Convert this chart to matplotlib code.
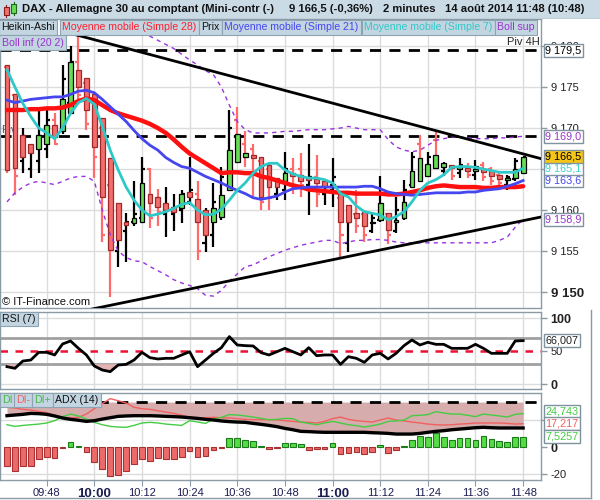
import matplotlib
matplotlib.use("Agg")
import matplotlib.pyplot as plt
import numpy as np
from matplotlib.patches import Rectangle
from matplotlib.lines import Line2D
from matplotlib.ticker import FixedLocator, FuncFormatter
from matplotlib.transforms import blended_transform_factory

plt.rcParams["font.family"] = ["Liberation Sans", "DejaVu Sans"]

# ---- DAX mini contract, 2-minute bars from 09:38 to 11:48 ----
first_bar_minute = 9 * 60 + 38
bar_step = 2

high = [9177.7, 9174.2, 9170.0, 9168.1, 9172.2, 9172.2, 9171.8, 9177.7, 9180.0, 9181.3,
        9176.1, 9174.2, 9171.2, 9166.3, 9160.8, 9159.6, 9163.5, 9166.5, 9165.1, 9162.6,
        9162.8, 9162.0, 9162.4, 9166.5, 9163.5, 9160.2, 9163.3, 9165.3, 9172.2, 9172.6,
        9169.6, 9168.1, 9166.5, 9165.7, 9163.7, 9167.1, 9166.3, 9166.9, 9168.0, 9166.7,
        9163.7, 9166.3, 9162.0, 9160.6, 9162.4, 9159.8, 9159.6, 9164.1, 9159.6, 9161.6,
        9163.7, 9167.1, 9169.1, 9167.1, 9169.6, 9165.9, 9165.5, 9166.4, 9165.7, 9166.1,
        9165.9, 9165.3, 9164.5, 9164.3, 9166.3, 9166.5]
low = [9164.5, 9161.8, 9164.5, 9163.9, 9164.5, 9166.3, 9167.9, 9169.3, 9171.8, 9173.5,
       9169.8, 9163.9, 9156.1, 9149.4, 9153.1, 9153.7, 9158.0, 9158.6, 9157.8, 9158.0,
       9156.7, 9157.4, 9158.4, 9160.6, 9153.9, 9154.9, 9155.5, 9158.8, 9162.4, 9165.7,
       9165.3, 9161.4, 9160.0, 9160.0, 9161.2, 9161.2, 9162.0, 9161.6, 9159.4, 9160.4,
       9160.6, 9160.4, 9154.3, 9154.9, 9157.2, 9156.1, 9157.2, 9158.6, 9155.9, 9157.2,
       9158.8, 9162.8, 9163.5, 9164.1, 9165.1, 9164.1, 9163.7, 9163.9, 9163.9, 9163.7,
       9163.5, 9163.0, 9162.8, 9162.4, 9163.5, 9164.5]
open_ = [9177.5, 9174.0, 9166.0, 9165.0, 9166.0, 9167.5, 9171.0, 9170.0, 9173.0, 9178.0,
         9175.5, 9173.0, 9170.0, 9163.0, 9155.0, 9157.5, 9158.5, 9159.0, 9165.0, 9161.0,
         9159.5, 9159.5, 9160.0, 9161.0, 9162.0, 9156.0, 9157.0, 9160.0, 9163.0, 9171.0,
         9168.0, 9167.5, 9166.0, 9165.0, 9162.0, 9162.5, 9165.0, 9165.0, 9163.0, 9164.0,
         9162.0, 9162.5, 9161.5, 9156.0, 9159.5, 9159.5, 9157.5, 9158.8, 9159.5, 9157.5,
         9159.5, 9163.0, 9168.0, 9164.5, 9168.5, 9164.8, 9165.2, 9164.5, 9165.3, 9164.3,
         9165.5, 9165.0, 9164.3, 9163.0, 9163.8, 9165.0]
close = [9165.5, 9164.1, 9169.0, 9167.5, 9169.0, 9171.0, 9168.0, 9176.0, 9178.0, 9174.0,
         9170.5, 9166.5, 9157.0, 9155.5, 9158.5, 9158.5, 9159.5, 9165.0, 9159.0, 9159.8,
         9160.5, 9160.0, 9162.0, 9162.5, 9155.0, 9158.5, 9161.0, 9164.0, 9170.0, 9167.0,
         9166.5, 9166.5, 9161.0, 9161.5, 9163.0, 9165.0, 9163.0, 9163.0, 9164.0, 9162.0,
         9163.0, 9164.0, 9157.0, 9158.5, 9158.0, 9157.0, 9159.0, 9162.0, 9157.0, 9160.0,
         9162.5, 9166.5, 9165.0, 9166.5, 9165.5, 9165.5, 9164.2, 9165.5, 9164.3, 9165.3,
         9164.0, 9163.5, 9163.3, 9164.0, 9166.0, 9166.5]
ha_open = [9177.7, 9174.2, 9169.1, 9168.1, 9167.5, 9168.1, 9170.4, 9169.6, 9171.8, 9177.1,
           9176.1, 9174.2, 9171.2, 9166.3, 9160.8, 9158.6, 9158.4, 9158.6, 9162.0, 9161.6,
           9160.8, 9160.4, 9160.2, 9162.2, 9161.4, 9160.0, 9158.6, 9159.2, 9162.4, 9165.9,
           9166.5, 9166.7, 9166.5, 9165.5, 9163.9, 9163.5, 9164.5, 9164.3, 9163.9, 9163.8,
           9163.5, 9163.0, 9162.0, 9160.6, 9159.6, 9159.8, 9158.4, 9158.8, 9159.6, 9158.5,
           9159.0, 9162.8, 9163.5, 9164.1, 9165.1, 9165.3, 9165.5, 9165.0, 9165.1, 9164.8,
           9165.0, 9164.7, 9164.3, 9163.7, 9163.9, 9164.5]
ha_close = [9164.9, 9165.1, 9166.5, 9166.9, 9169.1, 9170.4, 9168.9, 9173.6, 9178.1, 9175.0,
            9172.2, 9167.7, 9161.6, 9155.1, 9156.3, 9158.2, 9159.0, 9163.3, 9160.8, 9160.4,
            9160.0, 9159.8, 9162.0, 9161.6, 9158.6, 9157.0, 9160.2, 9161.8, 9167.3, 9169.3,
            9166.9, 9166.3, 9161.6, 9162.8, 9162.8, 9164.5, 9164.1, 9163.5, 9163.7, 9163.3,
            9162.8, 9163.2, 9158.6, 9158.6, 9159.0, 9158.0, 9158.6, 9160.8, 9157.6, 9158.8,
            9161.0, 9164.7, 9166.3, 9165.6, 9166.7, 9165.7, 9165.1, 9165.2, 9164.8, 9165.0,
            9164.6, 9164.2, 9163.8, 9163.8, 9165.0, 9166.5]

sma7 = [9177.1, 9175.0, 9173.0, 9171.4, 9170.0, 9169.4, 9168.7, 9170.0, 9171.8, 9173.1,
        9173.6, 9172.9, 9170.2, 9167.3, 9164.9, 9162.8, 9161.2, 9160.0, 9159.3, 9159.5,
        9159.8, 9160.2, 9160.7, 9160.9, 9160.0, 9159.4, 9159.5, 9160.1, 9161.2, 9162.4,
        9163.3, 9164.5, 9165.3, 9165.7, 9165.7, 9164.9, 9164.4, 9164.1, 9163.9, 9163.9,
        9163.7, 9163.3, 9162.0, 9161.6, 9160.5, 9159.8, 9159.6, 9159.4, 9158.8, 9159.2,
        9159.8, 9161.0, 9162.4, 9163.3, 9163.7, 9164.3, 9165.2, 9165.3, 9165.3, 9165.2,
        9165.0, 9164.8, 9164.6, 9164.6, 9164.6, 9165.1]
sma21 = [9173.4, 9173.1, 9173.3, 9173.5, 9173.6, 9173.7, 9173.8, 9173.8, 9174.1, 9174.5,
         9174.6, 9174.3, 9173.5, 9172.6, 9171.7, 9170.8, 9169.7, 9168.7, 9167.9, 9167.3,
         9166.4, 9165.8, 9165.3, 9165.1, 9164.6, 9164.1, 9163.7, 9163.3, 9162.8, 9162.4,
         9162.0, 9161.5, 9161.3, 9161.5, 9161.7, 9162.2, 9162.6, 9162.7, 9162.8, 9162.8,
         9162.8, 9162.8, 9162.8, 9162.8, 9162.8, 9162.9, 9162.9, 9162.6, 9162.2, 9162.0,
         9161.9, 9161.8, 9161.9, 9162.0, 9162.1, 9162.1, 9162.1, 9162.1, 9162.2, 9162.2,
         9162.4, 9162.5, 9162.6, 9162.9, 9163.2, 9163.6]
sma28 = [9172.2, 9172.2, 9172.2, 9172.3, 9172.3, 9172.4, 9172.4, 9172.5, 9172.8, 9173.3,
         9173.6, 9173.4, 9172.8, 9172.2, 9171.8, 9171.5, 9171.2, 9170.9, 9170.5, 9170.0,
         9169.4, 9168.6, 9167.7, 9166.9, 9166.3, 9165.7, 9165.1, 9164.5, 9164.6, 9164.6,
         9164.5, 9164.5, 9164.1, 9163.9, 9163.6, 9163.3, 9163.0, 9162.8, 9162.5, 9162.4,
         9162.3, 9162.2, 9162.1, 9162.1, 9162.0, 9162.0, 9162.0, 9162.0, 9161.9, 9161.9,
         9162.0, 9162.2, 9162.4, 9162.7, 9162.9, 9163.0, 9162.9, 9162.8, 9162.8, 9162.8,
         9162.7, 9162.7, 9162.8, 9162.8, 9162.8, 9162.9]
boll_sup = [9184.5, 9185.0, 9185.2, 9185.3, 9185.3, 9185.2, 9185.0, 9185.2, 9185.8, 9186.3,
            9186.6, 9186.5, 9186.0, 9185.2, 9184.2, 9183.3, 9182.4, 9181.6, 9181.2, 9180.7,
            9180.2, 9179.7, 9179.0, 9178.3, 9177.7, 9177.0, 9176.5, 9175.0, 9172.8, 9170.8,
            9169.8, 9169.4, 9169.4, 9169.4, 9169.5, 9169.6, 9169.6, 9169.7, 9169.8, 9169.8,
            9169.8, 9169.9, 9170.0, 9170.2, 9170.0, 9169.8, 9169.8, 9169.8, 9168.6, 9167.7,
            9167.3, 9167.1, 9167.3, 9167.9, 9168.5, 9168.7, 9168.9, 9168.9, 9168.8, 9168.7,
            9168.7, 9168.7, 9168.8, 9168.8, 9168.9, 9169.0]
boll_inf = [9161.0, 9162.1, 9162.8, 9163.3, 9163.5, 9163.3, 9163.1, 9163.5, 9163.9, 9164.1,
            9164.1, 9163.5, 9160.0, 9157.0, 9155.0, 9154.2, 9153.8, 9153.7, 9153.1, 9152.6,
            9152.1, 9151.5, 9151.1, 9150.8, 9150.4, 9149.6, 9149.5, 9150.2, 9151.3, 9152.2,
            9153.1, 9153.3, 9153.8, 9154.3, 9154.7, 9155.1, 9155.4, 9155.7, 9155.9, 9156.1,
            9156.3, 9156.3, 9155.9, 9156.1, 9156.3, 9156.3, 9156.4, 9156.4, 9156.3, 9156.1,
            9156.0, 9156.0, 9156.0, 9156.0, 9156.0, 9156.0, 9156.0, 9156.0, 9156.0, 9156.0,
            9156.0, 9156.0, 9156.3, 9156.7, 9157.9, 9158.9]

rsi7 = [26.4, 23.9, 35.0, 36.5, 48.2, 48.2, 44.2, 60.9, 65.5, 54.3,
        44.2, 27.4, 21.3, 18.8, 28.9, 29.9, 36.5, 48.2, 40.1, 38.1,
        39.1, 39.1, 44.2, 49.2, 26.4, 36.5, 46.7, 55.3, 72.1, 59.4,
        58.4, 57.9, 47.7, 44.2, 49.2, 54.3, 49.2, 44.2, 55.3, 43.1,
        44.2, 44.2, 29.9, 41.6, 39.1, 33.0, 44.2, 46.7, 38.1, 46.7,
        58.4, 67.0, 59.4, 63.5, 60.4, 60.4, 54.3, 54.3, 54.3, 60.4,
        54.3, 46.7, 46.7, 46.7, 65.5, 66.007]

adx = [23.2, 23.7, 24.2, 24.9, 24.7, 24.2, 23.0, 21.5, 20.5, 19.8,
       19.0, 19.5, 20.7, 21.7, 22.7, 23.0, 23.2, 23.2, 23.2, 23.0,
       22.7, 22.5, 22.2, 21.7, 21.2, 20.5, 20.0, 19.3, 18.8, 18.5,
       18.3, 17.5, 16.8, 16.0, 15.1, 13.8, 12.8, 11.6, 11.4, 11.1,
       10.9, 10.9, 10.9, 10.9, 10.9, 10.9, 10.6, 10.4, 10.1, 9.6,
       9.6, 9.6, 10.1, 10.9, 11.6, 12.1, 12.8, 13.3, 13.8, 14.3,
       14.6, 14.3, 14.1, 14.1, 14.1, 14.1]
di_plus = [16.5, 15.3, 16.0, 16.5, 17.0, 17.8, 19.5, 22.5, 24.4, 23.0,
           20.7, 18.3, 16.5, 15.3, 14.8, 14.6, 16.0, 17.8, 18.3, 17.8,
           17.0, 16.5, 16.0, 19.5, 18.5, 17.5, 20.7, 22.0, 24.0, 23.7,
           23.0, 22.2, 21.2, 20.2, 20.5, 21.2, 21.0, 18.5, 17.5, 16.5,
           17.8, 19.0, 17.8, 16.5, 15.8, 14.8, 15.8, 17.0, 19.0, 19.3,
           20.0, 23.2, 23.5, 24.0, 26.2, 25.2, 24.4, 24.4, 23.5, 22.5,
           24.4, 23.7, 23.0, 22.2, 24.2, 24.743]
di_minus = [29.4, 28.9, 27.9, 27.4, 26.4, 25.4, 23.5, 21.5, 21.5, 22.0,
            24.4, 28.4, 32.1, 35.8, 34.3, 32.6, 29.4, 28.4, 27.9, 26.9,
            25.9, 24.9, 23.5, 22.2, 21.5, 21.7, 22.0, 21.7, 21.5, 21.0,
            20.5, 20.2, 20.2, 20.2, 20.0, 19.5, 19.0, 18.5, 18.3, 17.8,
            19.0, 21.0, 22.2, 20.5, 19.5, 19.0, 18.5, 20.0, 21.5, 20.0,
            19.3, 18.5, 17.8, 17.0, 16.5, 16.3, 16.5, 17.0, 17.3, 17.8,
            17.8, 17.8, 17.8, 17.5, 17.0, 17.217]
di_hist = [-13.8, -17.5, -13.8, -13.8, -8.6, -7.7, -8.1, -0.7, 3.7, 1.0,
           -3.7, -11.1, -16.0, -21.2, -20.5, -18.0, -12.6, -8.6, -10.1, -8.1,
           -8.6, -8.6, -7.7, -2.7, -7.4, -6.9, -2.2, -0.7, 6.7, 6.7,
           4.9, 4.2, 0.7, -1.5, -1.0, 2.7, 2.7, 2.2, -2.0, -1.5,
           -1.5, 3.0, -5.2, -4.4, -4.0, -5.2, -3.7, 1.5, -4.4, -2.2,
           0.7, 5.4, 8.4, 7.4, 10.4, 7.4, 5.4, 6.7, 6.7, 5.4,
           8.1, 5.9, 4.2, 3.5, 7.4, 7.5257]

# levels and hand-drawn trend lines (bar index, price)
piv_4h = 9179.5
piv_1h = 9169.0
trend_upper = ([7.8, 67.5], [9181.6, 9166.2])
trend_lower = ([10.6, 67.5], [9147.9, 9159.2])
adx_level = 33.3
rsi_levels = (30, 70)

W, H = 600, 500
GRID = "#dcdcdc"
FRAME = "#8a9ba6"
UP_BAR, DOWN_BAR = "black", "#ff6b6b"

idx = np.arange(len(close))
minutes = first_bar_minute + bar_step * idx
tick_bars = idx[minutes % 12 == 0]
tick_text = [f"{m // 60:02d}:{m % 60:02d}" for m in minutes[minutes % 12 == 0]]


def fr(v, d=1):
    s = f"{v:.{d}f}"
    whole, dec = s.split(".")
    return f"{int(whole):,}".replace(",", " ") + "," + dec


def rect(x0, y0, x1, y1):
    return [x0 / W, 1 - y1 / H, (x1 - x0) / W, (y1 - y0) / H]


fig = plt.figure(figsize=(6, 5), dpi=100)
fig.patch.set_facecolor("white")

ax = fig.add_axes(rect(0, 19, 541, 308))
ax_rsi = fig.add_axes(rect(0, 312, 541, 389), sharex=ax)
ax_adx = fig.add_axes(rect(0, 393, 541, 480), sharex=ax)

for a in (ax, ax_rsi, ax_adx):
    a.set_facecolor("white")
    for s in a.spines.values():
        s.set_color(FRAME)
        s.set_linewidth(1)
    a.yaxis.tick_right()
    a.tick_params(axis="y", length=4, width=1, color=FRAME, pad=3, labelsize=8, labelcolor="#222222")
    for b in tick_bars:
        a.axvline(b, color=GRID, lw=1, zorder=0)
ax.set_xlim(-0.88, 67.25)

# ---------------- main price panel ----------------
ax.set_ylim(9148.05, 9183.3)
main_ticks = np.arange(9150, 9181, 5)
ax.yaxis.set_major_locator(FixedLocator(main_ticks))
ax.yaxis.set_major_formatter(FuncFormatter(lambda v, p: f"{int(v):,}".replace(",", " ")))
for t in main_ticks:
    ax.axhline(t, color=GRID, lw=1, zorder=0)
ax.tick_params(axis="x", bottom=False, labelbottom=False)

ax.axhline(piv_4h, color="black", lw=2, dashes=(4, 3), zorder=2)
ax.axhline(piv_1h, color="black", lw=2, dashes=(4, 3), zorder=2)

bar_col = [UP_BAR if c >= o else DOWN_BAR for o, c in zip(open_, close)]
ax.vlines(idx, low, high, colors=bar_col, lw=1.6, zorder=3)
ax.hlines(open_, idx - 0.38, idx, colors=bar_col, lw=1.6, zorder=3)
ax.hlines(close, idx, idx + 0.38, colors=bar_col, lw=1.6, zorder=3)

ha_open_a = np.array(ha_open)
ha_close_a = np.array(ha_close)
bull = ha_close_a >= ha_open_a
body = np.where(np.abs(ha_close_a - ha_open_a) < 0.15, 0.15 * np.where(bull, 1, -1), ha_close_a - ha_open_a)
ax.bar(idx[bull], body[bull], bottom=ha_open_a[bull], width=0.6, color="#66dd55",
       edgecolor="black", lw=0.9, zorder=4)
ax.bar(idx[~bull], body[~bull], bottom=ha_open_a[~bull], width=0.6, color="#f26e6e",
       edgecolor="#a02828", lw=0.9, zorder=4)

ax.plot(idx, boll_sup, color="#9933dd", lw=1, dashes=(3, 3), zorder=5)
ax.plot(idx, boll_inf, color="#9933dd", lw=1, dashes=(3, 3), zorder=5)
ax.plot(idx, sma28, color="#ff1010", lw=3.2, zorder=6, solid_capstyle="round")
ax.plot(idx, sma21, color="#4646f0", lw=2, zorder=6)
ax.plot(idx, sma7, color="#2fc8c8", lw=2, zorder=7)
ax.plot(*trend_upper, color="black", lw=2, zorder=8)
ax.plot(*trend_lower, color="black", lw=2, zorder=8)

ax.text(-0.7, piv_1h + 0.35, "Piv", fontsize=8, color="#55557a", zorder=1)
ax.text(0.998, piv_4h + 0.4, "Piv 4H", transform=blended_transform_factory(ax.transAxes, ax.transData),
        ha="right", va="bottom", fontsize=8, color="#222222", zorder=9)
ax.text(0.004, 0.012, "© IT-Finance.com", transform=ax.transAxes, fontsize=8, color="#111111", zorder=9)


def value_tag(a, value, text, color, face="white", size=7.8):
    a.text(1.008, value, text, transform=blended_transform_factory(a.transAxes, a.transData),
           ha="left", va="center", fontsize=size, color=color, zorder=12, clip_on=False,
           bbox=dict(boxstyle="square,pad=0.14", fc=face, ec="#7f939f", lw=1))


value_tag(ax, piv_4h, fr(piv_4h), "black")
value_tag(ax, boll_sup[-1], fr(boll_sup[-1]), "#9933cc")
value_tag(ax, boll_inf[-1], fr(boll_inf[-1]), "#9933cc")
value_tag(ax, sma21[-1], fr(sma21[-1]), "#4646f0")
value_tag(ax, sma7[-1], fr(sma7[-1]), "#40d0d0")
value_tag(ax, close[-1], fr(close[-1]), "black", face="#f5c518")

for lbl, v in zip(ax.get_yticklabels(), main_ticks):
    if v == 9150:
        lbl.set_fontweight("bold")
        lbl.set_fontsize(9.5)

# ---------------- RSI panel ----------------
ax_rsi.set_ylim(-7.6, 109.6)
ax_rsi.yaxis.set_major_locator(FixedLocator([0, 50, 100]))
ax_rsi.yaxis.set_major_formatter(FuncFormatter(lambda v, p: f"{int(v)}"))
ax_rsi.tick_params(axis="x", bottom=False, labelbottom=False)
ax_rsi.axhline(0, color=GRID, lw=1, zorder=0)
ax_rsi.axhline(100, color=GRID, lw=1, zorder=0)
for lv in rsi_levels:
    ax_rsi.axhline(lv, color="#a0a0a0", lw=2, zorder=1)
ax_rsi.axhline(50, color="#ee1133", lw=1.8, dashes=(3, 3), zorder=2)
rsi_a = np.array(rsi7)
ax_rsi.fill_between(idx, rsi_a, rsi_levels[0], where=rsi_a < rsi_levels[0], interpolate=True,
                    color="#e6b3b3", lw=0, zorder=2)
ax_rsi.fill_between(idx, rsi_a, rsi_levels[1], where=rsi_a > rsi_levels[1], interpolate=True,
                    color="#e6b3b3", lw=0, zorder=2)
ax_rsi.plot(idx, rsi7, color="black", lw=2, zorder=3)
value_tag(ax_rsi, rsi7[-1], fr(rsi7[-1], 3), "#222222")
for lbl in ax_rsi.get_yticklabels():
    if lbl.get_text() in ("100", "0"):
        lbl.set_fontweight("bold")
        lbl.set_fontsize(9)

# ---------------- ADX panel ----------------
ax_adx.set_ylim(-24.4, 40)
ax_adx.yaxis.set_major_locator(FixedLocator([-20, 0, 20]))
ax_adx.yaxis.set_major_formatter(FuncFormatter(lambda v, p: f"{int(v)}"))
for lv in (-20, 20):
    ax_adx.axhline(lv, color=GRID, lw=1, zorder=0)
ax_adx.axhline(adx_level, color="black", lw=2, dashes=(4, 3), zorder=2)
ax_adx.fill_between(idx, adx, adx_level, color="#d7acac", lw=0, zorder=1)
hist = np.array(di_hist)
pos = hist >= 0
ax_adx.bar(idx[pos], hist[pos], width=0.72, color="#55dd44", edgecolor="#1d7a1d", lw=0.8, zorder=3)
ax_adx.bar(idx[~pos], hist[~pos], width=0.72, color="#ec6a6a", edgecolor="#a83030", lw=0.8, zorder=3)
ax_adx.plot(idx, di_minus, color="#f06060", lw=1, zorder=4)
ax_adx.plot(idx, di_plus, color="#44cc44", lw=1, zorder=4)
ax_adx.plot(idx, adx, color="black", lw=2.4, zorder=5)
value_tag(ax_adx, di_plus[-1] + 1.4, fr(di_plus[-1], 3), "#44cc44")
value_tag(ax_adx, di_minus[-1], fr(di_minus[-1], 3), "#f06060")
value_tag(ax_adx, di_hist[-1] + 0.4, fr(di_hist[-1], 4), "#44cc44")

ax_adx.xaxis.set_major_locator(FixedLocator(tick_bars))
ax_adx.set_xticklabels(tick_text)
ax_adx.tick_params(axis="x", length=4, color=FRAME, labelsize=8, labelcolor="#1c1c50", pad=2)
for lbl in ax_adx.get_xticklabels():
    if lbl.get_text().endswith(":00"):
        lbl.set_fontweight("bold")
        lbl.set_fontsize(9.5)
for lbl in ax_adx.get_yticklabels():
    if lbl.get_text() == "0":
        lbl.set_fontweight("bold")
        lbl.set_fontsize(9)

# ---------------- header and legend tags ----------------
ax_head = fig.add_axes(rect(0, 0, 600, 19))
ax_head.set_xlim(0, 600)
ax_head.set_ylim(19, 0)
ax_head.set_facecolor("#cadbe6")
ax_head.set_xticks([])
ax_head.set_yticks([])
for s in ax_head.spines.values():
    s.set_visible(False)
ax_head.add_line(Line2D([0, 600], [18.5, 18.5], color=FRAME, lw=1))
ax_head.add_patch(Rectangle((3.5, 7), 5, 8, fc="#f07070", ec="#8b1a1a", lw=0.8))
ax_head.add_line(Line2D([6, 6], [5, 17], color="#8b1a1a", lw=0.8, zorder=0))
ax_head.add_patch(Rectangle((11, 3.5), 5, 9, fc="#66dd55", ec="#1d6a1d", lw=0.8))
ax_head.add_line(Line2D([13.5, 13.5], [1.5, 15], color="#1d6a1d", lw=0.8, zorder=0))
head_font = dict(fontsize=8.1, fontweight="bold", color="#111111", va="center")
ax_head.text(22, 9.5, "DAX - Allemagne 30 au comptant (Mini-contr (-)", **head_font)
ax_head.text(289, 9.5, f"{fr(close[-1])} (-0,36%)", **head_font)
ax_head.text(383, 9.5, "2 minutes", **head_font)
ax_head.text(445, 9.5, "14 août 2014 11:48 (10:48)", **head_font)


def legend_tag(x, y, text, color):
    fig.text(x / W, 1 - y / H, text, ha="left", va="center", fontsize=7.6, color=color, zorder=20,
             bbox=dict(boxstyle="square,pad=0.22", fc="#c3d5e1", ec="#8ea3b2", lw=0.8))


legend_tag(1.5, 27.5, "Heikin-Ashi", "#111111")
legend_tag(62, 27.5, "Moyenne mobile (Simple 28)", "#ff2030")
legend_tag(201, 27.5, "Prix", "#111111")
legend_tag(224, 27.5, "Moyenne mobile (Simple 21)", "#4646f0")
legend_tag(364, 27.5, "Moyenne mobile (Simple 7)", "#30c8c8")
legend_tag(497, 27.5, "Boll sup", "#9933cc")
legend_tag(1.5, 42.5, "Boll inf (20 2)", "#9933cc")

legend_tag(2, 319, "RSI (7)", "#111111")
legend_tag(2, 400, "DI", "#44bb44")
legend_tag(16, 400, "DI-", "#f06060")
legend_tag(34, 400, "DI+", "#44bb44")
legend_tag(55, 400, "ADX (14)", "#111111")

# outer frame of the lower panels
fig.add_artist(Line2D([591 / W, 591 / W], [1 - 310 / H, 1 - 498 / H], color=FRAME, lw=1))
fig.add_artist(Line2D([0, 591 / W], [1 - 498 / H, 1 - 498 / H], color=FRAME, lw=1))

fig.savefig("out.png", dpi=100)
